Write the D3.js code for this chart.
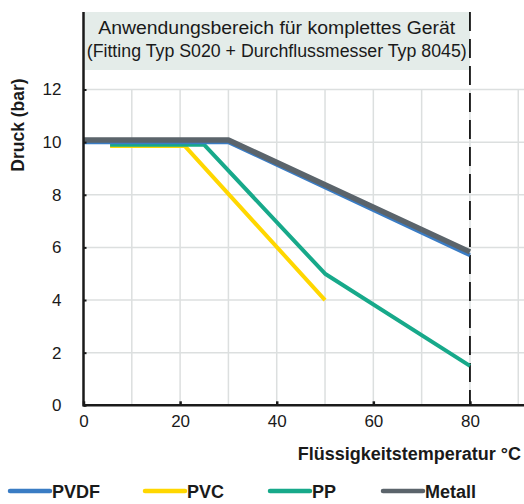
<!DOCTYPE html>
<meta charset="utf-8">
<style>
body { margin: 0; background: #fff; }
text { font-family: "Liberation Sans", Arial, sans-serif; fill: #1a1a1a; }
.grid line { stroke: #dcdfdf; stroke-width: 1.5px; }
.series { fill: none; stroke-linejoin: round; }
</style>
<script src="https://cdn.jsdelivr.net/npm/d3@7"></script>
<body>
<script>

var width = 524,
    height = 504;

// data
var xTicks = [0, 20, 40, 60, 80];
var yTicks = [0, 2, 4, 6, 8, 10, 12];
var seriesNames = ["PVDF", "PVC", "PP", "Metall"];
var seriesColors = ["#3a7cc4", "#ffd700", "#17a98a", "#5b646b"];
var pvdf = [[0, 10], [30, 10], [80, 5.7]];
var pvc = [[5.5, 9.85], [21, 9.85], [50, 4]];
var pp = [[5.5, 9.9], [25, 9.9], [50, 5], [80, 1.5]];
var metall = [[0, 10.08], [30, 10.08], [80, 5.83]];
var bandText = ["Anwendungsbereich für komplettes Gerät",
                "(Fitting Typ S020 + Durchflussmesser Typ 8045)"];
var limitT = 80;

var svg = d3.select("body").append("svg")
    .attr("width", width)
    .attr("height", height);

var x = d3.scaleLinear().domain([0, 91.5]).range([83.5, 525.5]);
var y = d3.scaleLinear().domain([0, 12]).range([405.3, 89.5]);

// band with the note
svg.append("rect")
    .attr("x", x(0)).attr("y", 12)
    .attr("width", x(limitT) - x(0)).attr("height", 58)
    .attr("fill", "#e4ece9");

svg.selectAll(".band-text")
  .data(bandText)
  .enter().append("text")
    .attr("class", "band-text")
    .attr("x", (x(0) + x(limitT)) / 2)
    .attr("y", function(d, i) { return 33.5 + i * 23; })
    .attr("text-anchor", "middle")
    .attr("font-size", 17.5)
    .attr("textLength", function(d, i) { return i ? 380 : 357; })
    .attr("lengthAdjust", "spacingAndGlyphs")
    .text(function(d) { return d; });

// grid
var grid = svg.append("g").attr("class", "grid");
grid.selectAll(".vg")
  .data(d3.range(10, 91, 10))
  .enter().append("line")
    .attr("x1", function(d) { return x(d); })
    .attr("x2", function(d) { return x(d); })
    .attr("y1", y(12)).attr("y2", y(0));
grid.selectAll(".hg")
  .data(yTicks.slice(1))
  .enter().append("line")
    .attr("x1", x(0)).attr("x2", width)
    .attr("y1", function(d) { return y(d); })
    .attr("y2", function(d) { return y(d); });

// limit line at 80 °C
svg.append("line")
    .attr("x1", x(limitT)).attr("x2", x(limitT))
    .attr("y1", 12).attr("y2", y(0))
    .attr("stroke", "#111")
    .attr("stroke-width", 1.8)
    .attr("stroke-dasharray", "19,8");

// series
var line = d3.line()
    .x(function(d) { return x(d[0]); })
    .y(function(d) { return y(d[1]); });

var drawOrder = [[pvc, 1, 4], [pp, 2, 4], [pvdf, 0, 4], [metall, 3, 5.5]];
svg.selectAll(".series")
  .data(drawOrder)
  .enter().append("path")
    .attr("class", "series")
    .attr("d", function(d) { return line(d[0]); })
    .attr("stroke", function(d) { return seriesColors[d[1]]; })
    .attr("stroke-width", function(d) { return d[2]; });

// axes
var xAxis = d3.axisBottom(x).tickValues(xTicks).tickSize(-4).tickPadding(10);
var yAxis = d3.axisLeft(y).tickValues(yTicks).tickSize(-3).tickPadding(22);

var gx = svg.append("g")
    .attr("transform", "translate(0," + y(0) + ")")
    .call(xAxis);
gx.select(".domain").remove();
gx.selectAll("line").attr("stroke", "#1a1a1a").attr("stroke-width", 2.5);
gx.selectAll("text").attr("font-size", 17).attr("font-family", null).attr("dy", "0.71em");

var gy = svg.append("g")
    .attr("transform", "translate(" + x(0) + ",0)")
    .call(yAxis);
gy.select(".domain").remove();
gy.selectAll("line").attr("stroke", "#1a1a1a").attr("stroke-width", 2);
gy.selectAll("text").attr("font-size", 17).attr("font-family", null);

svg.append("line")
    .attr("x1", x(0)).attr("x2", width)
    .attr("y1", y(0)).attr("y2", y(0))
    .attr("stroke", "#1a1a1a").attr("stroke-width", 2.5);
svg.append("line")
    .attr("x1", x(0)).attr("x2", x(0))
    .attr("y1", 12).attr("y2", y(0) + 1.25)
    .attr("stroke", "#1a1a1a").attr("stroke-width", 2.5);

// axis titles
svg.append("text")
    .attr("x", 521).attr("y", 460)
    .attr("text-anchor", "end")
    .attr("font-size", 18)
    .attr("font-weight", "bold")
    .text("Flüssigkeitstemperatur °C");

svg.append("text")
    .attr("transform", "translate(24,125) rotate(-90)")
    .attr("text-anchor", "middle")
    .attr("font-size", 17.5)
    .attr("font-weight", "bold")
    .text("Druck (bar)");

// legend
var legendX = [10, 145, 270, 383];
var legend = svg.selectAll(".legend")
  .data(seriesNames)
  .enter().append("g")
    .attr("class", "legend")
    .attr("transform", function(d, i) { return "translate(" + legendX[i] + ",491)"; });
legend.append("line")
    .attr("x1", 0).attr("x2", 40)
    .attr("stroke", function(d, i) { return seriesColors[i]; })
    .attr("stroke-width", 4.5)
    .attr("stroke-linecap", "round");
legend.append("text")
    .attr("x", 42).attr("y", 7)
    .attr("font-size", 18)
    .attr("font-weight", "bold")
    .text(function(d) { return d; });

</script>
</body>
